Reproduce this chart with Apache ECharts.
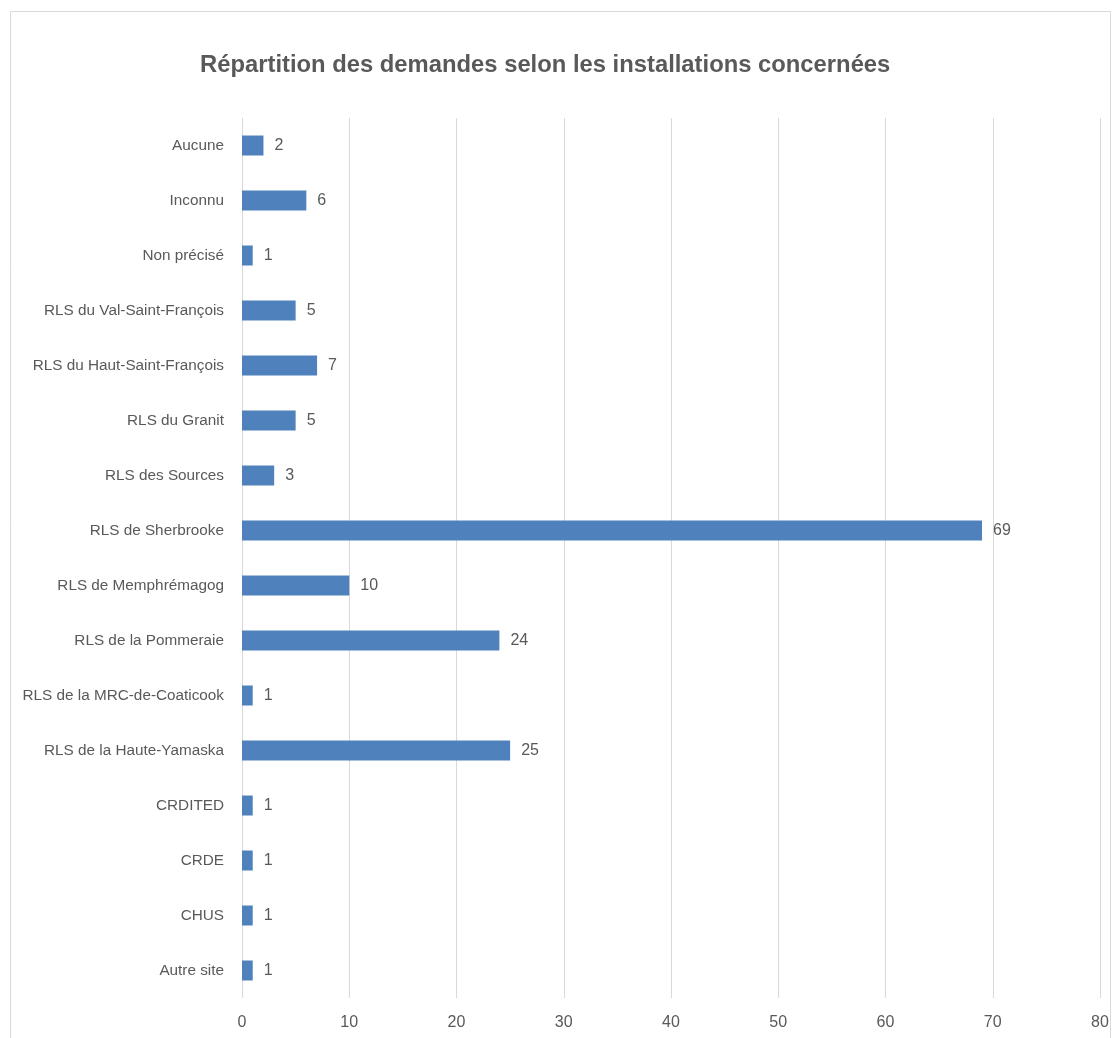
<!DOCTYPE html>
<html><head><meta charset="utf-8">
<script src="https://cdn.jsdelivr.net/npm/echarts@6/dist/echarts.min.js"></script>
<style>html,body{margin:0;padding:0;background:#fff}#c{width:1119px;height:1038px}</style>
</head><body><div id="c"></div>
<script>
const categories = ["Autre site","CHUS","CRDE","CRDITED","RLS de la Haute-Yamaska","RLS de la MRC-de-Coaticook","RLS de la Pommeraie","RLS de Memphrémagog","RLS de Sherbrooke","RLS des Sources","RLS du Granit","RLS du Haut-Saint-François","RLS du Val-Saint-François","Non précisé","Inconnu","Aucune"];
const values = [1,1,1,1,25,1,24,10,69,3,5,7,5,1,6,2];
const xTicks = {min:0, max:80, interval:10};
const titleText = "Répartition des demandes selon les installations concernées";

const chart = echarts.init(document.getElementById('c'));
const font = "Liberation Sans";
chart.setOption({
  animation:false,
  backgroundColor:'#fff',
  title:{text:titleText,left:195,top:48,textStyle:{fontFamily:font,fontSize:23.8,fontWeight:'bold',color:'#595959'}},
  graphic:[{type:'rect',shape:{x:10.5,y:11.5,width:1100,height:1040},style:{fill:'none',stroke:'#d9d9d9',lineWidth:1},silent:true,z:-1}],
  grid:{left:242,right:19,top:118,bottom:40},
  xAxis:{type:'value',min:xTicks.min,max:xTicks.max,interval:xTicks.interval,
    axisLine:{show:false},axisTick:{show:false},
    splitLine:{show:true,lineStyle:{color:'#d9d9d9',width:1}},
    axisLabel:{fontFamily:font,fontSize:16,color:'#595959',margin:17}},
  yAxis:{type:'category',data:categories,
    axisLine:{show:false},axisTick:{show:false},
    axisLabel:{fontFamily:font,fontSize:15.3,color:'#595959',margin:18}},
  series:[{type:'bar',data:values,barWidth:20,itemStyle:{color:'#4F81BD'},
    label:{show:true,position:'right',distance:11,fontFamily:font,fontSize:16,color:'#595959'}}]
});
</script></body></html>
